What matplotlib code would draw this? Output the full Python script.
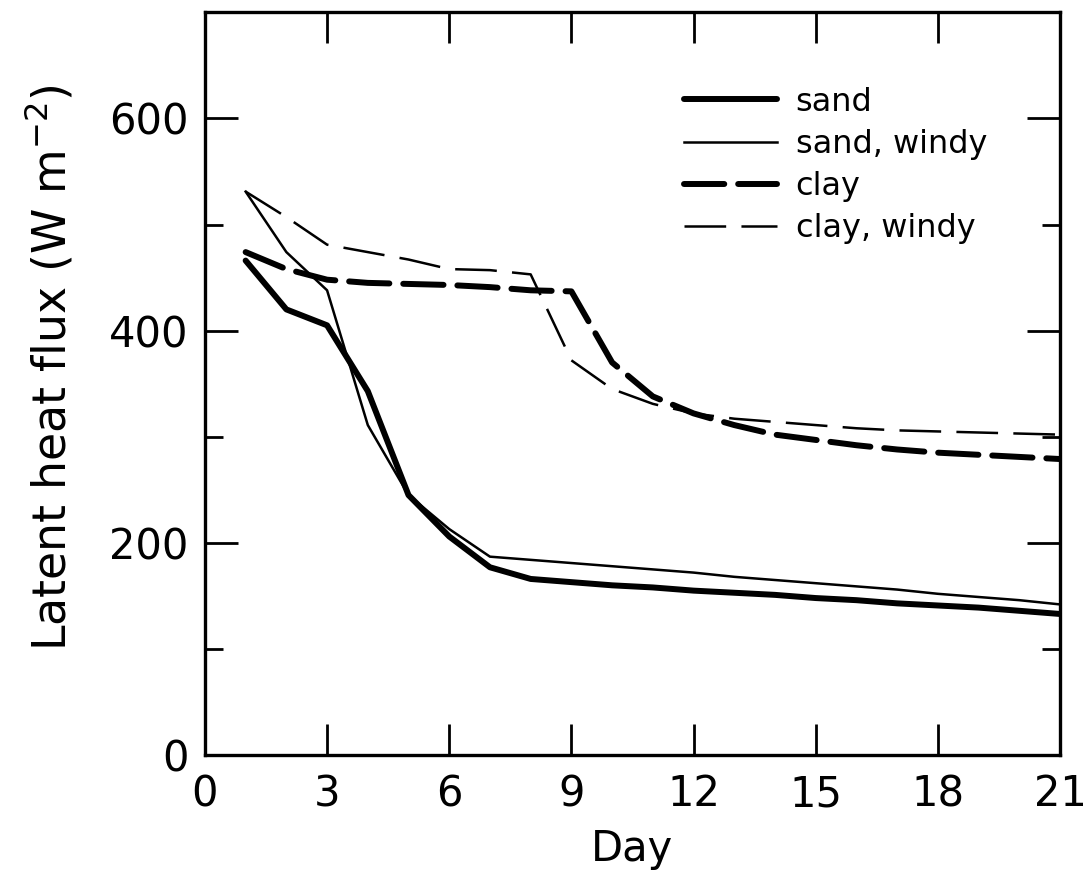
import matplotlib
matplotlib.use("Agg")
import matplotlib.pyplot as plt
from matplotlib.ticker import FixedLocator

plt.rcParams["font.family"] = ["DejaVu Sans"]
plt.rcParams["lines.scale_dashes"] = False

# Daily latent heat flux (W m^-2) for each soil / wind case
days = list(range(1, 22))
sand = [466, 420, 405, 343, 245, 206, 177, 166, 163, 160, 158, 155,
        153, 151, 148, 146, 143, 141, 139, 136, 133]
sand_windy = [531, 474, 438, 311, 245, 213, 187, 184, 181, 178, 175, 172,
              168, 165, 162, 159, 156, 152, 149, 146, 142]
clay = [474, 458, 448, 445, 444, 443, 441, 438, 437, 370, 338, 322,
        311, 302, 297, 292, 288, 285, 283, 281, 279]
clay_windy = [531, 507, 481, 474, 467, 458, 457, 453, 372, 345, 331, 322,
              317, 314, 311, 308, 306, 305, 304, 303, 302]

labels = ["sand", "sand, windy", "clay", "clay, windy"]
x_ticks = [0, 3, 6, 9, 12, 15, 18, 21]
y_ticks = [0, 200, 400, 600]
y_minor = [100, 300, 500]

fig = plt.figure(figsize=(10.9, 8.76), dpi=100)
ax = fig.add_axes([0.188, 0.138, 0.7845, 0.848])

ax.plot(days, sand, color="black", lw=4.3, solid_capstyle="round",
        solid_joinstyle="round", label=labels[0])
ax.plot(days, sand_windy, color="black", lw=1.8, solid_joinstyle="round",
        label=labels[1])
ax.plot(days, clay, color="black", lw=4.3, dashes=(29, 10),
        dash_capstyle="round", dash_joinstyle="round", label=labels[2])
ax.plot(days, clay_windy, color="black", lw=1.8, dashes=(30, 11),
        dash_joinstyle="round", label=labels[3])

ax.set_xlim(0, 21)
ax.set_ylim(0, 700)

ax.xaxis.set_major_locator(FixedLocator(x_ticks))
ax.yaxis.set_major_locator(FixedLocator(y_ticks))
ax.yaxis.set_minor_locator(FixedLocator(y_minor))

for s in ax.spines.values():
    s.set_linewidth(2.4)

ax.tick_params(axis="both", which="both", direction="in", width=2.0,
               top=True, right=True, labelsize=30, colors="black")
ax.tick_params(axis="x", which="major", length=22, pad=13)
ax.tick_params(axis="y", which="major", length=24, pad=12)
ax.tick_params(axis="y", which="minor", length=13)

ax.set_xticklabels([str(v) for v in x_ticks])
ax.set_yticklabels([str(v) for v in y_ticks])

ax.set_xlabel("Day", fontsize=30, labelpad=9)
ax.set_ylabel("Latent heat flux (W m$^{-2}$)", fontsize=33)
ax.yaxis.set_label_coords(-0.151, 0.522)

leg = ax.legend(loc="upper left", bbox_to_anchor=(0.534, 0.93),
                frameon=False, fontsize=23, handlelength=2.9,
                handletextpad=0.6, labelspacing=0.35, borderpad=0.2)

fig.savefig("out.png", dpi=100)
